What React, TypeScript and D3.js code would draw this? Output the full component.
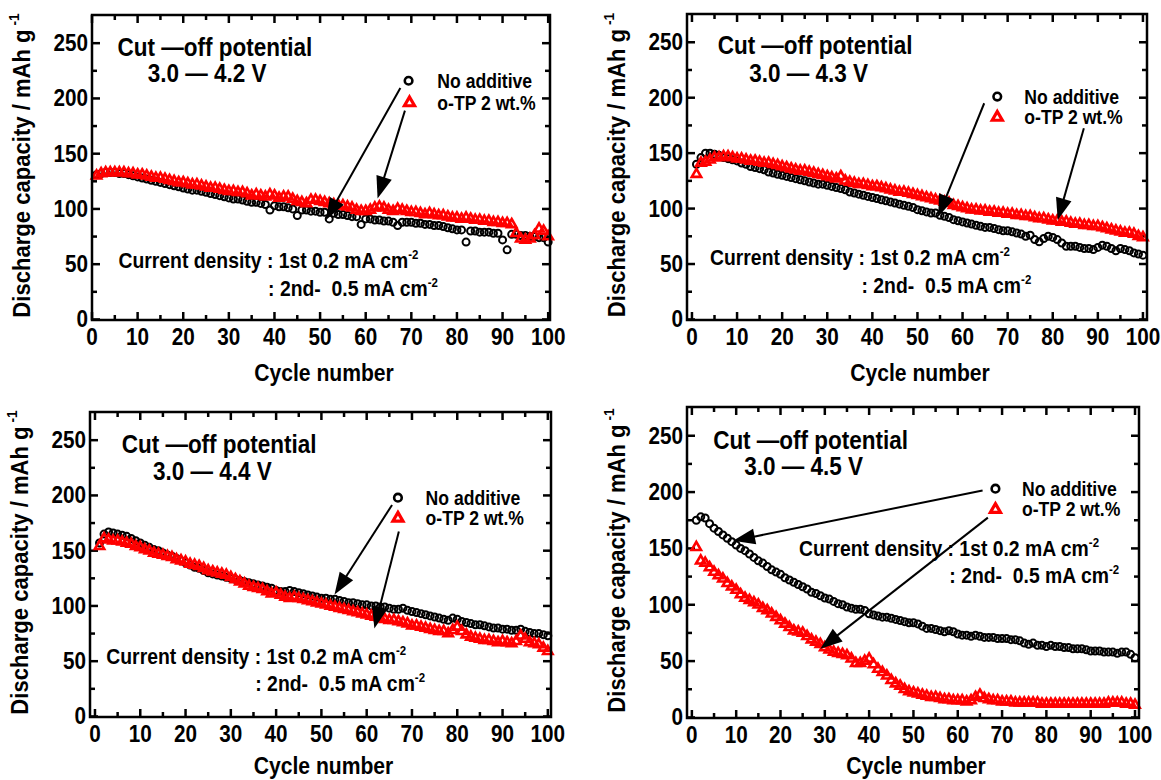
import * as d3 from "d3";

const W = 1161;
const H = 780;
const FONT = "'Liberation Sans', Arial, Helvetica, sans-serif";

// cycle numbers 1..100
const cycles = d3.range(1, 101);

const xMajor = [0, 10, 20, 30, 40, 50, 60, 70, 80, 90, 100];
const xMinor = [5, 15, 25, 35, 45, 55, 65, 75, 85, 95];
const yMajor = [0, 50, 100, 150, 200, 250];
const yMinor = [25, 75, 125, 175, 225];
const Y_DOMAIN = [-0.5, 275.5];

// 3.0 - 4.2 V
const noAdd42 = [
  131, 132, 133, 133, 133, 132, 132, 131, 130, 129,
  128, 127, 126, 125, 124, 123, 122, 121, 120, 119,
  118, 117, 117, 116, 115, 114, 113, 112, 111, 110,
  109, 109, 108, 107, 106, 106, 105, 104, 99, 103,
  102, 102, 101, 100, 94, 99, 99, 98, 98, 97,
  97, 91, 96, 95, 95, 94, 93, 93, 86, 91,
  91, 90, 90, 89, 89, 88, 85, 88, 88, 88,
  87, 87, 86, 86, 85, 85, 84, 83, 82, 81,
  81, 70, 80, 80, 79, 79, 79, 78, 78, 72,
  63, 77, 77, 76, 76, 75, 75, 74, 74, 70,
];
const otp42 = [
  130, 132, 133, 133, 133, 133, 133, 132, 132, 131,
  131, 130, 129, 128, 128, 127, 126, 125, 124, 124,
  123, 122, 122, 121, 120, 119, 119, 118, 117, 116,
  116, 115, 115, 114, 112, 113, 112, 111, 113, 112,
  110, 111, 111, 109, 107, 106, 105, 108, 108, 107,
  106, 105, 104, 103, 103, 102, 101, 99, 98, 98,
  99, 101, 102, 101, 99, 98, 100, 99, 98, 97,
  97, 96, 95, 96, 95, 94, 94, 93, 92, 92,
  91, 92, 91, 90, 90, 89, 89, 88, 88, 87,
  87, 86, 78, 73, 72, 73, 76, 82, 80, 75,
];

// 3.0 - 4.3 V
const noAdd43 = [
  140, 146, 150, 150, 149, 148, 146, 145, 144, 143,
  141, 140, 138, 137, 136, 135, 133, 132, 131, 130,
  129, 128, 127, 126, 125, 124, 123, 122, 122, 121,
  120, 119, 118, 117, 115, 114, 113, 112, 111, 110,
  109, 108, 107, 106, 105, 104, 103, 102, 101, 99,
  98, 97, 96, 96, 94, 93, 92, 90, 89, 88,
  87, 86, 85, 84, 83, 83, 82, 81, 80, 80,
  79, 78, 77, 75, 76, 72, 70, 73, 75, 74,
  72, 69, 66, 66, 66, 65, 64, 64, 63, 65,
  67, 66, 64, 62, 64, 63, 62, 60, 59, 58,
];
const otp43 = [
  131, 141, 142, 144, 146, 146, 147, 147, 146, 145,
  145, 144, 143, 143, 142, 141, 141, 140, 139, 138,
  137, 136, 135, 134, 134, 133, 132, 131, 130, 129,
  128, 127, 129, 125, 124, 123, 122, 122, 121, 120,
  120, 119, 118, 117, 116, 115, 115, 114, 113, 112,
  111, 110, 109, 108, 107, 106, 105, 103, 102, 101,
  100, 99, 99, 98, 98, 97, 97, 96, 96, 95,
  95, 94, 94, 93, 93, 92, 91, 91, 90, 89,
  89, 88, 88, 87, 86, 86, 85, 85, 84, 84,
  83, 82, 81, 80, 79, 78, 78, 77, 75, 74,
];

// 3.0 - 4.4 V
const noAdd44 = [
  157, 165, 167, 166, 165, 164, 163, 161, 159, 157,
  155, 153, 151, 150, 148, 146, 145, 143, 141, 139,
  137, 135, 134, 132, 130, 129, 128, 127, 126, 125,
  124, 123, 122, 121, 120, 119, 118, 117, 116, 114,
  113, 113, 114, 113, 112, 111, 110, 109, 108, 107,
  107, 106, 106, 105, 104, 103, 103, 102, 101, 101,
  100, 100, 99, 99, 98, 97, 97, 98, 96, 95,
  94, 93, 92, 91, 90, 89, 88, 87, 89, 88,
  86, 85, 84, 83, 83, 82, 81, 80, 80, 79,
  79, 78, 78, 79, 77, 76, 75, 75, 74, 73,
];
const otp44 = [
  154, 161, 160, 159, 159, 158, 157, 156, 154, 153,
  151, 150, 148, 147, 146, 145, 144, 142, 141, 140,
  138, 137, 136, 134, 132, 131, 130, 129, 128, 126,
  124, 122, 120, 118, 117, 116, 115, 113, 111, 112,
  110, 108, 107, 108, 107, 106, 105, 104, 103, 102,
  101, 100, 99, 98, 97, 96, 95, 94, 93, 92,
  91, 90, 89, 88, 87, 87, 86, 85, 84, 82,
  82, 81, 80, 79, 78, 77, 77, 75, 78, 81,
  77, 74, 72, 71, 70, 69, 69, 68, 67, 68,
  67, 66, 68, 73, 70, 67, 66, 65, 62, 59,
];

// 3.0 - 4.5 V
const noAdd45 = [
  175, 178, 177, 172, 168, 165, 162, 159, 156, 153,
  150, 148, 145, 142, 139, 137, 134, 131, 129, 127,
  124, 122, 120, 118, 116, 114, 111, 110, 108, 106,
  105, 103, 101, 100, 98, 97, 96, 96, 95, 92,
  91, 90, 89, 89, 88, 87, 86, 85, 84, 84,
  83, 81, 79, 79, 78, 77, 76, 77, 76, 74,
  73, 73, 72, 73, 72, 71, 71, 71, 70, 70,
  70, 69, 69, 68, 66, 65, 66, 64, 64, 63,
  64, 63, 63, 62, 62, 61, 61, 61, 60, 59,
  59, 59, 58, 58, 58, 57, 58, 58, 56, 53,
];
const otp45 = [
  151, 139, 137, 133, 129, 126, 123, 119, 116, 113,
  109, 106, 104, 102, 100, 97, 95, 92, 89, 86,
  83, 80, 77, 76, 75, 72, 69, 67, 65, 62,
  60, 58, 57, 56, 55, 52, 48, 48, 50, 52,
  47, 43, 40, 37, 33, 30, 28, 25, 23, 22,
  21, 20, 19, 18, 18, 17, 16, 16, 15, 15,
  15, 14, 15, 18, 20, 17, 16, 15, 15, 14,
  14, 14, 13, 13, 13, 13, 13, 13, 12, 12,
  12, 12, 12, 12, 12, 12, 12, 12, 12, 12,
  12, 12, 12, 13, 13, 13, 13, 12, 12, 11,
];

// layout + annotations (annotation points given in data coords)
const panels = [
  {
    voltage: "3.0 \u2014 4.2 V",
    black: noAdd42,
    red: otp42,
    frame: { left: 92, top: 15, width: 458, height: 305 },
    xDomain: [0, 100.4],
    title: [5.6, 238.5],
    title2: [12.2, 214.5],
    legC: [69.4, 216],
    legT: [69.6, 196],
    legX: 75.7,
    arrows: [
      [67.6, 209.4, 51.3, 90],
      [68.6, 189, 62.6, 109.5],
    ],
    cd1: [5.8, 46.5],
    cd2: [38.6, 21.6],
  },
  {
    voltage: "3.0 \u2014 4.3 V",
    black: noAdd43,
    red: otp43,
    frame: { left: 687, top: 14, width: 460, height: 306 },
    xDomain: [-1.1, 100.9],
    title: [5.7, 239.5],
    title2: [12.7, 214.5],
    legC: [67.7, 201],
    legT: [67.7, 182.3],
    legX: 73.7,
    arrows: [
      [64.8, 195, 54.6, 92.7],
      [86.9, 172.4, 81.1, 89.6],
    ],
    cd1: [4, 49],
    cd2: [37.6, 23.5],
  },
  {
    voltage: "3.0 \u2014 4.4 V",
    black: noAdd44,
    red: otp44,
    frame: { left: 90, top: 412, width: 461, height: 305 },
    xDomain: [-1.1, 100.7],
    title: [5.9, 238.6],
    title2: [12.8, 214],
    legC: [66.9, 198],
    legT: [66.9, 179.4],
    legX: 73,
    arrows: [
      [65.6, 191.4, 52.9, 110.3],
      [67.1, 167.4, 61.7, 79.6],
    ],
    cd1: [2.5, 47.8],
    cd2: [35.4, 23.1],
  },
  {
    voltage: "3.0 \u2014 4.5 V",
    black: noAdd45,
    red: otp45,
    frame: { left: 687, top: 407, width: 452, height: 311 },
    xDomain: [-1.1, 100.9],
    title: [4.8, 238.5],
    title2: [11.8, 215],
    legC: [68.5, 203],
    legT: [68.5, 184.6],
    legX: 74.5,
    arrows: [
      [65.6, 201.4, 9.3, 156.7],
      [66.8, 177.3, 29, 61],
    ],
    cd1: [24.2, 143.4],
    cd2: [58.1, 119],
  },
];

const RED = "#ff0000";
const tri = d3.symbol().type(d3.symbolTriangle).size(38)();
const triLeg = d3.symbol().type(d3.symbolTriangle).size(44)();

function Txt({ x, y, size, sx = 0.88, anchor = "start", rotate = 0, children }: any) {
  return (
    <text
      transform={`translate(${x},${y})${rotate ? ` rotate(${rotate})` : ""} scale(${sx},1)`}
      fontSize={size}
      fontWeight="bold"
      fontFamily={FONT}
      textAnchor={anchor}
      fill="#000"
      style={{ whiteSpace: "pre" }}
    >
      {children}
    </text>
  );
}

function Arrow({ x1, y1, x2, y2 }: any) {
  const dx = x2 - x1;
  const dy = y2 - y1;
  const len = Math.hypot(dx, dy);
  const ux = dx / len;
  const uy = dy / len;
  const L = 22;
  const hw = 8;
  const bx = x2 - ux * L;
  const by = y2 - uy * L;
  const pts = [
    [x2, y2],
    [bx - uy * hw, by + ux * hw],
    [bx + uy * hw, by - ux * hw],
  ];
  return (
    <g>
      <line x1={x1} y1={y1} x2={bx + ux * 2} y2={by + uy * 2} stroke="#000" strokeWidth={2} />
      <polygon points={pts.map((p) => p.join(",")).join(" ")} fill="#000" />
    </g>
  );
}

function Panel({ p }: any) {
  const { frame } = p;
  const x = d3.scaleLinear().domain(p.xDomain).range([frame.left, frame.left + frame.width]);
  const y = d3.scaleLinear().domain(Y_DOMAIN).range([frame.top + frame.height, frame.top]);
  const L = frame.left;
  const R = frame.left + frame.width;
  const T = frame.top;
  const B = frame.top + frame.height;
  const majLen = 8;
  const minLen = 5;
  const tickW = 2.5;

  return (
    <g>
      {/* ticks */}
      {xMajor.concat(xMinor).map((v) => {
        const len = xMajor.includes(v) ? majLen : minLen;
        const px = x(v);
        return (
          <g key={"xt" + v}>
            <line x1={px} x2={px} y1={B} y2={B - len} stroke="#000" strokeWidth={tickW} />
            <line x1={px} x2={px} y1={T} y2={T + len} stroke="#000" strokeWidth={tickW} />
          </g>
        );
      })}
      {yMajor.concat(yMinor).map((v) => {
        const len = yMajor.includes(v) ? majLen : minLen;
        const py = y(v);
        return (
          <g key={"yt" + v}>
            <line x1={L} x2={L + len} y1={py} y2={py} stroke="#000" strokeWidth={tickW} />
            <line x1={R} x2={R - len} y1={py} y2={py} stroke="#000" strokeWidth={tickW} />
          </g>
        );
      })}

      {/* tick labels */}
      {xMajor.map((v) => (
        <Txt key={"xl" + v} x={x(v)} y={B + 25} size={23} sx={0.9} anchor="middle">
          {String(v)}
        </Txt>
      ))}
      {yMajor.map((v) => (
        <Txt key={"yl" + v} x={L - 4} y={y(v) + 8} size={23} sx={0.9} anchor="end">
          {String(v)}
        </Txt>
      ))}

      {/* axis titles */}
      <Txt x={(L + R) / 2 + 3} y={Math.min(B + 61, H - 6)} size={24} sx={0.88} anchor="middle">
        Cycle number
      </Txt>
      <Txt x={L - 62} y={(T + B) / 2 - 2} size={24} sx={0.92} anchor="middle" rotate={-90}>
        Discharge capacity / mAh g
        <tspan dy={-11} fontSize={15}>{" -1"}</tspan>
      </Txt>

      {/* data */}
      {p.black.map((v: number, i: number) => (
        <circle
          key={"b" + i}
          cx={x(cycles[i])}
          cy={y(v)}
          r={3.5}
          fill="none"
          stroke="#000"
          strokeWidth={2}
        />
      ))}
      {p.red.map((v: number, i: number) => (
        <path
          key={"r" + i}
          d={tri}
          transform={`translate(${x(cycles[i])},${y(v)})`}
          fill="none"
          stroke={RED}
          strokeWidth={2.6}
        />
      ))}

      {/* frame */}
      <rect x={L} y={T} width={frame.width} height={frame.height} fill="none" stroke="#000" strokeWidth={2.5} />

      {/* annotations */}
      <Txt x={x(p.title[0])} y={y(p.title[1])} size={25} sx={0.9}>
        {"Cut \u2014off potential"}
      </Txt>
      <Txt x={x(p.title2[0])} y={y(p.title2[1])} size={25} sx={0.9}>
        {p.voltage}
      </Txt>

      <circle cx={x(p.legC[0])} cy={y(p.legC[1])} r={3.8} fill="none" stroke="#000" strokeWidth={2.6} />
      <path
        d={triLeg}
        transform={`translate(${x(p.legT[0])},${y(p.legT[1])})`}
        fill="none"
        stroke={RED}
        strokeWidth={3.2}
      />
      <Txt x={x(p.legX)} y={y(p.legC[1]) + 7} size={20} sx={0.88}>
        No additive
      </Txt>
      <Txt x={x(p.legX)} y={y(p.legT[1]) + 7} size={20} sx={0.88}>
        o-TP 2 wt.%
      </Txt>

      {p.arrows.map((a: number[], i: number) => (
        <Arrow key={"a" + i} x1={x(a[0])} y1={y(a[1])} x2={x(a[2])} y2={y(a[3])} />
      ))}

      <Txt x={x(p.cd1[0])} y={y(p.cd1[1])} size={22} sx={0.88}>
        Current density : 1st 0.2 mA cm
        <tspan dy={-9} fontSize={13}>-2</tspan>
      </Txt>
      <Txt x={x(p.cd2[0])} y={y(p.cd2[1])} size={22} sx={0.88}>
        {": 2nd-  0.5 mA cm"}
        <tspan dy={-9} fontSize={13}>-2</tspan>
      </Txt>
    </g>
  );
}

export default function App() {
  return (
    <svg
      width={W}
      height={H}
      viewBox={`0 0 ${W} ${H}`}
      style={{ position: "absolute", left: 0, top: 0, background: "#fff" }}
    >
      <rect width={W} height={H} fill="#fff" />
      {panels.map((p, i) => (
        <Panel key={i} p={p} />
      ))}
    </svg>
  );
}
